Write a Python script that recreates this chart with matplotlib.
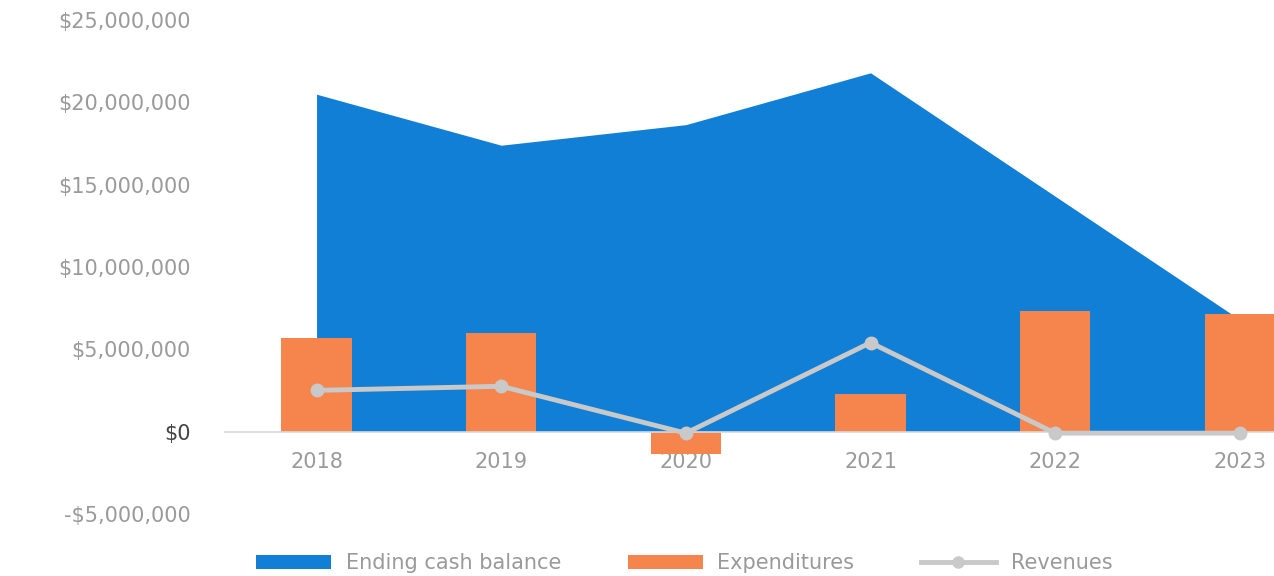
import matplotlib
matplotlib.use("Agg")
import matplotlib.pyplot as plt
from matplotlib.ticker import FuncFormatter
from matplotlib.patches import Patch
from matplotlib.lines import Line2D

years = ["2018", "2019", "2020", "2021", "2022", "2023"]
ending_cash = [20.5e6, 17.4e6, 18.65e6, 21.8e6, 14.3e6, 6.8e6]
expenditures = [5.7e6, 6.0e6, -1.35e6, 2.25e6, 7.3e6, 7.15e6]
revenues = [2.5e6, 2.75e6, -0.1e6, 5.4e6, -0.1e6, -0.1e6]

BLUE = "#127fd6"
ORANGE = "#f5854c"
GREY_LINE = "#c9c9c9"
TEXT = "#9a9a9a"

fig = plt.figure(figsize=(12.74, 5.76), dpi=100)
ax = fig.add_axes([0.176, 0.108, 0.824, 0.857])

x = list(range(len(years)))
ax.fill_between(x, 0, ending_cash, color=BLUE, lw=0, zorder=1)
ax.bar(x, expenditures, width=0.38, color=ORANGE, zorder=2)
ax.axhline(0, color="#d9d9d9", lw=1.2, zorder=2.5)
ax.plot(x, revenues, color=GREY_LINE, lw=3.5, marker="o", markersize=9,
        markerfacecolor=GREY_LINE, markeredgecolor=GREY_LINE, zorder=3)

ax.set_xlim(-0.5, 5.185)
ax.set_ylim(-5e6, 25e6)
ax.set_yticks([-5e6, 0, 5e6, 10e6, 15e6, 20e6, 25e6])


def money(v, _):
    if v == 0:
        return "$0"
    sign = "-" if v < 0 else ""
    return f"{sign}${abs(v):,.0f}"


ax.yaxis.set_major_formatter(FuncFormatter(money))
ax.set_xticks(x)
ax.set_xticklabels(years)
for s in ax.spines.values():
    s.set_visible(False)
# category labels sit just under the zero line
ax.spines["bottom"].set_position(("data", 0))
ax.tick_params(axis="both", length=0, labelsize=15, colors=TEXT)
ax.tick_params(axis="y", pad=24)
ax.tick_params(axis="x", pad=15)
for lbl in ax.get_yticklabels():
    if lbl.get_text() == "$0":
        lbl.set_color("#444444")

handles = [
    Patch(facecolor=BLUE, edgecolor="none", label="Ending cash balance"),
    Patch(facecolor=ORANGE, edgecolor="none", label="Expenditures"),
    Line2D([0], [0], color=GREY_LINE, lw=3.5, marker="o", markersize=8,
           label="Revenues"),
]
leg = fig.legend(handles=handles, loc="center", bbox_to_anchor=(0.537, 0.022),
                 ncol=3, frameon=False, fontsize=15, handlelength=3.6,
                 handleheight=0.7, columnspacing=3.2, handletextpad=0.7)
for t in leg.get_texts():
    t.set_color(TEXT)

fig.savefig("out.png", dpi=100)
